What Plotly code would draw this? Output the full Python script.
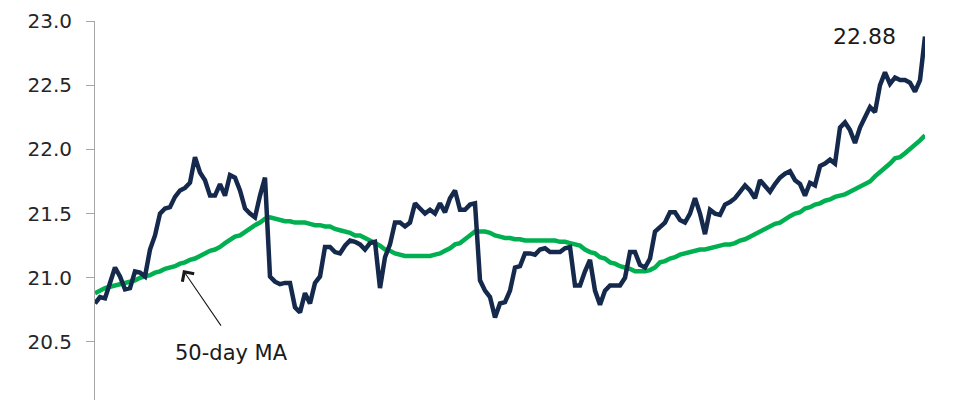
import plotly.graph_objects as go

# Daily price (dark line)
price = [
    20.80, 20.85, 20.84, 20.95, 21.08, 21.01, 20.91, 20.92, 21.05, 21.04,
    21.01, 21.22, 21.33, 21.50, 21.54, 21.55, 21.63, 21.68, 21.70, 21.74,
    21.94, 21.82, 21.76, 21.64, 21.64, 21.73, 21.64, 21.80, 21.78, 21.68,
    21.54, 21.50, 21.47, 21.64, 21.78, 21.01, 20.97, 20.95, 20.96, 20.96,
    20.77, 20.73, 20.88, 20.80, 20.96, 21.01, 21.24, 21.24, 21.20, 21.19,
    21.25, 21.29, 21.28, 21.26, 21.22, 21.27, 21.28, 20.92, 21.16, 21.26,
    21.43, 21.43, 21.40, 21.43, 21.58, 21.54, 21.50, 21.53, 21.50, 21.58,
    21.51, 21.62, 21.68, 21.53, 21.53, 21.57, 21.58, 20.98, 20.90, 20.85,
    20.69, 20.80, 20.81, 20.90, 21.08, 21.09, 21.19, 21.19, 21.18, 21.22,
    21.23, 21.20, 21.20, 21.20, 21.23, 21.24, 20.94, 20.94, 21.05, 21.14,
    20.90, 20.79, 20.90, 20.94, 20.94, 20.94, 21.00, 21.20, 21.20, 21.10,
    21.08, 21.15, 21.36, 21.39, 21.43, 21.51, 21.51, 21.45, 21.43, 21.50,
    21.62, 21.50, 21.34, 21.53, 21.50, 21.49, 21.57, 21.59, 21.62, 21.67,
    21.72, 21.68, 21.62, 21.76, 21.71, 21.67, 21.73, 21.78, 21.81, 21.83,
    21.76, 21.73, 21.64, 21.74, 21.72, 21.87, 21.89, 21.92, 21.89, 22.17,
    22.21, 22.15, 22.05, 22.17, 22.25, 22.33, 22.29, 22.50, 22.60, 22.51,
    22.56, 22.54, 22.54, 22.52, 22.45, 22.54, 22.88,
]

# 50-day moving average (green line)
ma50 = [
    20.88, 20.90, 20.92, 20.93, 20.94, 20.95, 20.96, 20.97, 20.98, 21.00,
    21.01, 21.02, 21.04, 21.05, 21.07, 21.08, 21.09, 21.11, 21.12, 21.14,
    21.15, 21.17, 21.19, 21.21, 21.22, 21.24, 21.27, 21.30, 21.32, 21.33,
    21.36, 21.39, 21.41, 21.43, 21.46, 21.47, 21.46, 21.45, 21.44, 21.44,
    21.43, 21.43, 21.43, 21.42, 21.41, 21.41, 21.40, 21.40, 21.38, 21.37,
    21.36, 21.35, 21.33, 21.33, 21.31, 21.29, 21.27, 21.25, 21.22, 21.21,
    21.19, 21.18, 21.17, 21.17, 21.17, 21.17, 21.17, 21.17, 21.18, 21.19,
    21.21, 21.23, 21.26, 21.27, 21.30, 21.33, 21.36, 21.36, 21.36, 21.35,
    21.33, 21.32, 21.31, 21.31, 21.30, 21.30, 21.29, 21.29, 21.29, 21.29,
    21.29, 21.29, 21.29, 21.28, 21.28, 21.27, 21.26, 21.25, 21.22, 21.20,
    21.19, 21.16, 21.15, 21.12, 21.11, 21.09, 21.08, 21.07, 21.05, 21.05,
    21.05, 21.06, 21.08, 21.12, 21.13, 21.15, 21.16, 21.18, 21.19, 21.20,
    21.21, 21.22, 21.22, 21.23, 21.24, 21.25, 21.26, 21.26, 21.27, 21.29,
    21.30, 21.32, 21.34, 21.36, 21.38, 21.40, 21.42, 21.43, 21.46, 21.48,
    21.50, 21.51, 21.54, 21.55, 21.57, 21.58, 21.60, 21.61, 21.63, 21.64,
    21.65, 21.67, 21.69, 21.71, 21.73, 21.75, 21.79, 21.82, 21.85, 21.89,
    21.93, 21.94, 21.97, 22.00, 22.03, 22.07, 22.11,
]

days = list(range(len(price)))
y_ticks = [20.0, 20.5, 21.0, 21.5, 22.0, 22.5, 23.0]
y_tick_text = ["20.0", "20.5", "21.0", "21.5", "22.0", "22.5", "23.0"]
last_label = "22.88"
ma_label = "50-day MA"

FONT = "DejaVu Sans"
Y_MIN, Y_MAX = 20.048, 23.0

fig = go.Figure()
fig.add_trace(go.Scatter(x=days, y=ma50, mode="lines",
                         line=dict(color="#00B050", width=4.5), hoverinfo="skip"))
fig.add_trace(go.Scatter(x=days, y=price, mode="lines",
                         line=dict(color="#14294B", width=4.5), hoverinfo="skip"))

# bottom tick label (20.0) lies just below the visible window; drawn unclipped
fig.add_trace(go.Scatter(x=[-4.6], y=[y_ticks[0]], mode="text",
                         text=[y_tick_text[0]], textposition="middle left",
                         cliponaxis=False, hoverinfo="skip",
                         textfont=dict(family=FONT, size=20, color="#262626")))

fig.update_layout(
    width=960, height=400,
    margin=dict(l=95, r=35, t=21, b=0, pad=0, autoexpand=False),
    paper_bgcolor="white", plot_bgcolor="white",
    showlegend=False,
    font=dict(family=FONT, color="#262626"),
    xaxis=dict(visible=False, range=[0, len(price) - 1], automargin=False),
    yaxis=dict(
        range=[Y_MIN, Y_MAX], automargin=False,
        tickvals=y_ticks, ticktext=y_tick_text,
        showgrid=False, zeroline=False,
        showline=True, linecolor="#A6A6A6", linewidth=1,
        ticks="outside", ticklen=8, tickcolor="#A6A6A6", tickwidth=1,
        tickfont=dict(family=FONT, size=20, color="#262626"),
        ticklabelstandoff=10,
    ),
)

fig.add_annotation(x=153.8, y=price[-1], text=last_label, showarrow=False,
                   xanchor="center", yanchor="middle",
                   font=dict(family=FONT, size=22, color="#1a1a1a"))

fig.add_annotation(x=17.6, y=21.06, text="", showarrow=True,
                   ax=39, ay=57, arrowhead=4, arrowsize=2.5, arrowwidth=1.1,
                   arrowcolor="#1a1a1a", standoff=0)
fig.add_annotation(x=27.2, y=20.414, text=ma_label, showarrow=False,
                   xanchor="center", yanchor="middle",
                   font=dict(family=FONT, size=21, color="#1a1a1a"))

fig.write_html(
    "out.html",
    config={"displayModeBar": False},
    post_script="document.body.style.margin='0';document.body.style.overflow='hidden';",
)
